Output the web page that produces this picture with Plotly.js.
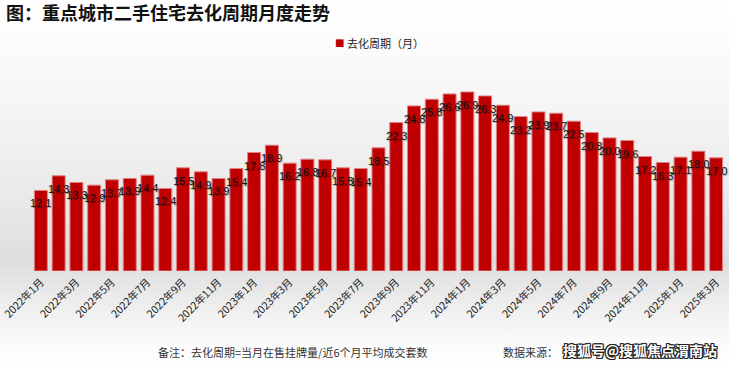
<!DOCTYPE html>
<html>
<head>
<meta charset="utf-8">
<script src="https://cdn.plot.ly/plotly-3.0.1.min.js"></script>
<style>
html,body{margin:0;padding:0;background:#fff;}
#bg{position:absolute;left:0;top:0;width:729px;height:366px;
background:linear-gradient(to bottom,#ffffff 0px,#f7f7f7 90px,#e9e9e9 200px,#dedede 262px,#ececec 300px,#fafafa 340px,#ffffff 366px);}
#chart{position:absolute;left:0;top:0;width:740px;height:366px;}
</style>
</head>
<body>
<div id="bg"></div>
<div id="chart"></div>
<script>
var months = [
"2022年1月","2022年2月","2022年3月","2022年4月","2022年5月","2022年6月","2022年7月","2022年8月","2022年9月","2022年10月","2022年11月","2022年12月",
"2023年1月","2023年2月","2023年3月","2023年4月","2023年5月","2023年6月","2023年7月","2023年8月","2023年9月","2023年10月","2023年11月","2023年12月",
"2024年1月","2024年2月","2024年3月","2024年4月","2024年5月","2024年6月","2024年7月","2024年8月","2024年9月","2024年10月","2024年11月","2024年12月",
"2025年1月","2025年2月","2025年3月"];
var cycle = [12.1,14.3,13.3,12.9,13.7,13.9,14.4,12.4,15.5,14.9,13.9,15.4,
17.8,18.9,16.2,16.8,16.7,15.5,15.4,18.5,22.3,24.8,25.8,26.6,
26.9,26.3,24.9,23.2,23.9,23.7,22.5,20.8,20.0,19.6,17.2,16.3,
17.1,18.0,17.0];
var tickLabels = months.filter(function(m,i){return i%2===0;});
var seriesName = "去化周期（月）";
var titleText = "图：重点城市二手住宅去化周期月度走势";
var noteText = "备注：去化周期=当月在售挂牌量/近6个月平均成交套数";
var sourceText = "数据来源：";
var watermark = "搜狐号@搜狐焦点渭南站";

var red = "#c00000";
var cjk = "'Noto Sans CJK SC', 'Noto Sans', sans-serif";

// plot area in pixels: x 32..725, y 60..271
function px(x){return (x-32)/693;}
function py(y){return (271-y)/211;}

var bars = {
  type: "bar", x: months, y: cycle, name: seriesName, showlegend: false,
  marker: {color: red, line: {color: "#e08080", width: 1}},
  hoverinfo: "x+y"
};

var labelAnn = months.map(function(m,i){
  return {x: m, y: cycle[i], xref: "x", yref: "y", text: cycle[i].toFixed(1),
    showarrow: false, yshift: -13,
    font: {family: "'Liberation Sans', Arial, sans-serif", size: 11, color: "#111111",
      shadow: "1px 1px 1px rgba(0,0,0,0.3)"}};
});

var annotations = labelAnn.concat([
  {xref: "paper", yref: "paper", x: px(333), y: py(43), xanchor: "left", yanchor: "middle",
   text: "■", showarrow: false, font: {family: "'DejaVu Sans', sans-serif", size: 10, color: red}},
  {xref: "paper", yref: "paper", x: px(345), y: py(43), xanchor: "left", yanchor: "middle",
   text: seriesName, showarrow: false, font: {family: cjk, size: 11, color: "#222"}},
  {xref: "paper", yref: "paper", x: px(156), y: py(352), xanchor: "left", yanchor: "middle",
   text: noteText, showarrow: false, font: {family: cjk, size: 11, color: "#333"}},
  {xref: "paper", yref: "paper", x: px(501), y: py(352), xanchor: "left", yanchor: "middle",
   text: sourceText, showarrow: false, font: {family: cjk, size: 11, color: "#333"}},
  {xref: "paper", yref: "paper", x: px(561), y: py(350), xanchor: "left", yanchor: "middle",
   text: watermark, showarrow: false,
   font: {family: cjk, size: 14, color: "#ffffff", weight: 700,
     shadow: "1px 1px 0 #222, -1px -1px 0 #222, 1px -1px 0 #222, -1px 1px 0 #222, 0 1px 0 #222, 0 -1px 0 #222, 1px 0 0 #222, -1px 0 0 #222"}}
]);

var layout = {
  width: 740, height: 366,
  paper_bgcolor: "rgba(0,0,0,0)", plot_bgcolor: "rgba(0,0,0,0)",
  margin: {l: 32, r: 15, t: 60, b: 95},
  bargap: 0.27,
  title: {text: titleText, x: 6/740, xanchor: "left", y: 1-14/366, yanchor: "middle",
    font: {family: cjk, size: 18, color: "#111", weight: 700}},
  xaxis: {type: "category", tickmode: "array", tickvals: tickLabels, ticktext: tickLabels,
    tickangle: -45, showgrid: false, zeroline: false, showline: false, ticks: "",
    ticklabelstandoff: 2,
    range: [-0.5, months.length - 0.5],
    tickfont: {family: cjk, size: 10.5, color: "#222"}},
  yaxis: {range: [0, 31.7], visible: false, showgrid: false, zeroline: false},
  showlegend: false,
  annotations: annotations
};
Plotly.newPlot("chart", [bars], layout, {displayModeBar: false, staticPlot: true});
</script>
</body>
</html>
